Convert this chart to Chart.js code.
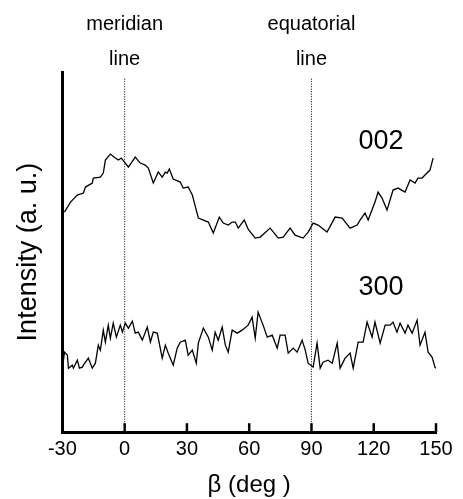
<!DOCTYPE html>
<html>
<head>
<meta charset="utf-8">
<script src="https://cdn.jsdelivr.net/npm/chart.js@4"></script>
<style>
html, body { margin: 0; padding: 0; background: #fff; }
</style>
</head>
<body>
<canvas id="myChart" width="463" height="499"></canvas>
<script>
// beta (deg) and intensity (a.u.)
var beta002 = [-29.0, -26.1, -22.8, -19.9, -18.9, -15.6, -15.1, -11.7, -10.3, -9.3, -6.9, -4.5, -3.0, -1.6, 1.8, 5.1, 7.5, 9.9, 11.4, 13.8,
    16.2, 18.1, 19.6, 20.5, 21.5, 23.4, 26.8, 28.2, 30.6, 32.6, 35.5, 37.9, 40.3, 42.7, 45.6, 47.5, 49.9, 51.8, 53.3, 54.7,
    57.6, 59.5, 62.9, 65.3, 70.1, 74.0, 76.4, 79.7, 82.1, 86.0, 88.4, 90.8, 93.2, 97.5, 101.4, 104.8, 108.6, 112.0, 113.4, 115.8,
    117.3, 120.6, 122.1, 124.0, 126.4, 129.3, 131.7, 135.1, 137.5, 139.9, 141.3, 143.3, 144.7, 147.1, 148.6];
var int002 = [220, 230, 237, 239, 245, 249, 254, 255, 259, 272, 278, 274, 272, 274, 265, 275, 269, 267, 264, 249,
    260, 255, 260, 259, 263, 253, 250, 244, 245, 237, 214, 212, 210, 199, 215, 209, 207, 210, 210, 204,
    212, 203, 194, 195, 204, 194, 195, 204, 197, 194, 200, 209, 207, 200, 215, 214, 204, 207, 212, 219,
    212, 230, 240, 234, 222, 242, 244, 240, 252, 249, 254, 254, 257, 262, 274];

var beta300 = [-30.0, -29.0, -27.6, -27.1, -25.2, -24.7, -22.8, -21.8, -20.4, -19.9, -17.5, -15.6, -14.1, -12.7, -11.7, -10.3, -9.3, -7.9, -6.9, -5.5,
    -4.0, -2.1, -1.1, 0.3, 1.8, 3.7, 5.1, 6.6, 8.5, 10.9, 12.4, 13.8, 15.7, 18.1, 19.6, 21.0, 23.4, 25.3, 26.8, 29.2,
    30.6, 32.6, 34.5, 35.5, 37.9, 40.3, 42.2, 43.6, 45.1, 47.0, 48.5, 49.9, 51.8, 54.2, 56.6, 59.5, 61.4, 62.9, 64.3, 66.7,
    68.7, 71.1, 73.5, 74.9, 77.3, 78.8, 81.2, 83.1, 85.5, 87.0, 88.4, 90.8, 92.7, 94.2, 95.6, 98.0, 100.0, 102.4, 103.8, 106.2,
    108.6, 110.1, 112.5, 114.9, 116.8, 119.2, 120.6, 123.1, 125.5, 127.9, 129.3, 131.2, 132.7, 135.1, 136.5, 138.5, 140.9, 142.3, 144.7, 146.2,
    148.1, 149.5, 150.0];
var int300 = [64, 80, 77, 64, 67, 64, 72, 64, 65, 67, 74, 64, 69, 87, 82, 102, 90, 107, 94, 109,
    95, 107, 100, 109, 104, 111, 99, 100, 92, 105, 90, 100, 99, 74, 87, 79, 67, 84, 90, 92,
    77, 82, 69, 89, 104, 95, 82, 100, 92, 105, 87, 80, 102, 99, 102, 107, 115, 94, 120, 107,
    95, 97, 84, 97, 97, 79, 84, 80, 92, 82, 69, 65, 89, 64, 70, 72, 69, 89, 64, 74,
    79, 64, 90, 90, 110, 95, 110, 89, 107, 107, 110, 100, 109, 99, 107, 99, 112, 87, 100, 80,
    75, 65, 64];

var curveNames = ['002', '300'];
var markerBeta = [0, 90];
var markerNames = [['meridian', 'line'], ['equatorial', 'line']];
var xTicks = [-30, 0, 30, 60, 90, 120, 150];

function pairs(xs, ys) {
    return xs.map(function (v, i) { return { x: v, y: ys[i] }; });
}

var FONT = '"Liberation Sans", Arial, sans-serif';

var overlay = {
    id: 'overlay',
    afterDatasetsDraw: function (chart) {
        var ctx = chart.ctx, area = chart.chartArea;
        var x = chart.scales.x, y = chart.scales.y;
        ctx.save();
        // inward tick marks on the bottom axis
        ctx.strokeStyle = '#000';
        ctx.lineWidth = 2.5;
        xTicks.forEach(function (v) {
            if (v === x.min) return;
            var px = x.getPixelForValue(v);
            ctx.beginPath();
            ctx.moveTo(px, area.bottom);
            ctx.lineTo(px, area.bottom - 9);
            ctx.stroke();
        });
        ctx.fillStyle = '#000';
        ctx.textAlign = 'center';
        ctx.textBaseline = 'middle';
        ctx.font = '20px ' + FONT;
        markerNames.forEach(function (lines, i) {
            var px = x.getPixelForValue(markerBeta[i]);
            lines.forEach(function (s, j) {
                ctx.fillText(s, px, area.top - 48 + j * 35);
            });
        });
        ctx.font = '27px ' + FONT;
        var levels = [290, 145];
        curveNames.forEach(function (s, i) {
            ctx.fillText(s, x.getPixelForValue(123.5), y.getPixelForValue(levels[i]));
        });
        ctx.restore();
    }
};

var markerSets = markerBeta.map(function (b) {
    return {
        data: [{ x: b, y: 0 }, { x: b, y: 354 }],
        borderColor: '#000',
        borderWidth: 1,
        borderDash: [1, 1.5],
        pointRadius: 0,
        showLine: true
    };
});

var ctx = document.getElementById('myChart').getContext('2d');
var myChart = new Chart(ctx, {
    type: 'scatter',
    data: {
        datasets: [{
            label: curveNames[0],
            data: pairs(beta002, int002),
            borderColor: '#000',
            borderWidth: 1.3,
            pointRadius: 0,
            showLine: true
        }, {
            label: curveNames[1],
            data: pairs(beta300, int300),
            borderColor: '#000',
            borderWidth: 1.3,
            pointRadius: 0,
            showLine: true
        }].concat(markerSets)
    },
    options: {
        responsive: false,
        animation: false,
        devicePixelRatio: 1,
        layout: { padding: { top: 72, left: 12, right: 27, bottom: 0 } },
        plugins: {
            legend: { display: false },
            tooltip: { enabled: false }
        },
        scales: {
            x: {
                type: 'linear',
                min: -30,
                max: 150,
                afterBuildTicks: function (axis) {
                    axis.ticks = xTicks.map(function (v) { return { value: v }; });
                },
                ticks: { color: '#000', padding: 5, autoSkip: false, maxRotation: 0, font: { family: FONT, size: 20 } },
                grid: { display: false, drawTicks: false },
                border: { display: true, color: '#000', width: 3 },
                title: { display: true, text: 'β (deg )', color: '#000', font: { family: FONT, size: 24 }, padding: { top: 5, bottom: -1 } }
            },
            y: {
                min: 0,
                max: 360,
                ticks: { display: false },
                grid: { display: false, drawTicks: false },
                border: { display: true, color: '#000', width: 3 },
                title: { display: true, text: 'Intensity (a. u.)', color: '#000', font: { family: FONT, size: 27 }, padding: { top: 0, bottom: 18 } }
            }
        }
    },
    plugins: [overlay]
});
</script>
</body>
</html>
